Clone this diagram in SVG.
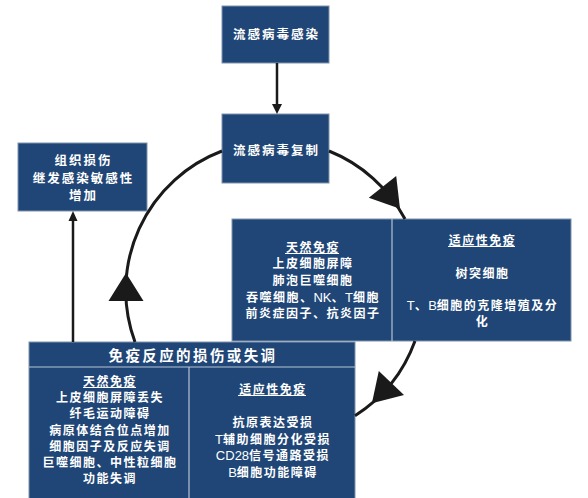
<svg xmlns="http://www.w3.org/2000/svg" width="588" height="498" viewBox="0 0 588 498">
<defs>
<style>
.box{fill:#1f4676;stroke:#8094ad;stroke-width:1}
.div{stroke:#b8c4d3;stroke-width:1.2}
.t{fill:#ffffff;font-family:"Liberation Sans","Noto Sans CJK SC",sans-serif;font-weight:bold;text-anchor:middle}
.s14{font-size:12.5px;letter-spacing:2px}
.s13{font-size:12px;letter-spacing:1.5px}
.s17{font-size:14.5px;letter-spacing:2.4px}
.lat{font-weight:normal;font-size:13px;letter-spacing:0}
.ul{stroke:#ffffff;stroke-width:1}
.ln{fill:none;stroke:#1a1a1a;stroke-width:3}
.sl{fill:none;stroke:#1a1a1a;stroke-width:2.5}
.ah{fill:#1a1a1a}
</style>
</defs>
<rect width="588" height="498" fill="#ffffff"/>

<g id="infection">
<rect class="box" x="222" y="6" width="107" height="57"/>
<text class="t s14" x="276.5" y="39">流感病毒感染</text>
</g>

<g id="replication">
<rect class="box" x="222" y="114" width="107" height="69"/>
<text class="t s14" x="276.5" y="155">流感病毒复制</text>
</g>

<g id="damage">
<rect class="box" x="18" y="143" width="129" height="68"/>
<text class="t s14" x="83.5" y="165">组织损伤</text>
<text class="t s14" x="83.5" y="183">继发感染敏感性</text>
<text class="t s14" x="83.5" y="200">增加</text>
</g>

<g id="response">
<rect class="box" x="232" y="219" width="339" height="122"/>
<line class="div" x1="392" y1="219" x2="392" y2="341"/>
<text class="t s13" x="313" y="251.5">天然免疫</text>
<line class="ul" x1="285" y1="253.5" x2="339" y2="253.5"/>
<text class="t s13" x="313" y="268">上皮细胞屏障</text>
<text class="t s13" x="313" y="285">肺泡巨噬细胞</text>
<text class="t s13" x="313" y="302">吞噬细胞、<tspan class="lat">NK</tspan>、<tspan class="lat">T</tspan>细胞</text>
<text class="t s13" x="313" y="318">前炎症因子、抗炎因子</text>
<text class="t s13" x="482.5" y="244.5">适应性免疫</text>
<line class="ul" x1="448" y1="246.5" x2="515" y2="246.5"/>
<text class="t s13" x="482.5" y="277.5">树突细胞</text>
<text class="t s13" x="482.5" y="310"><tspan class="lat">T</tspan>、<tspan class="lat">B</tspan>细胞的克隆增殖及分</text>
<text class="t s13" x="482.5" y="326">化</text>
</g>

<g id="dysregulation">
<rect class="box" x="29" y="342" width="326" height="160"/>
<line class="div" x1="29" y1="367" x2="355" y2="367"/>
<line class="div" x1="189" y1="367" x2="189" y2="502"/>
<text class="t s17" x="193" y="360.5">免疫反应的损伤或失调</text>
<text class="t s13" x="110" y="385.5">天然免疫</text>
<line class="ul" x1="83" y1="387.5" x2="136" y2="387.5"/>
<text class="t s13" x="110" y="402">上皮细胞屏障丢失</text>
<text class="t s13" x="110" y="418">纤毛运动障碍</text>
<text class="t s13" x="110" y="434.5">病原体结合位点增加</text>
<text class="t s13" x="110" y="450.8">细胞因子及反应失调</text>
<text class="t s13" x="110" y="467">巨噬细胞、中性粒细胞</text>
<text class="t s13" x="110" y="483">功能失调</text>
<text class="t s13" x="273" y="393.5">适应性免疫</text>
<line class="ul" x1="238" y1="395.5" x2="306" y2="395.5"/>
<text class="t s13" x="273" y="427">抗原表达受损</text>
<text class="t s13" x="273" y="443.5"><tspan class="lat">T</tspan>辅助细胞分化受损</text>
<text class="t s13" x="273" y="460"><tspan class="lat">CD28</tspan>信号通路受损</text>
<text class="t s13" x="273" y="476.5"><tspan class="lat">B</tspan>细胞功能障碍</text>
</g>

<g id="connectors">
<line class="sl" x1="277" y1="63" x2="277" y2="106"/>
<polygon class="ah" points="277,114 272,104 282,104"/>
<line class="sl" x1="73" y1="342" x2="73" y2="219"/>
<polygon class="ah" points="73,211 68.5,221 77.5,221"/>
<path class="ln" d="M329,151 A149,149 0 0 1 405,219"/>
<polygon class="ah" points="400,208.8 396.2,176 368.8,197.8"/>
<path class="ln" d="M415,341 A149,149 0 0 1 355,415.7"/>
<polygon class="ah" points="371.9,403.2 404,395.1 378.8,370.9"/>
<path class="ln" d="M135,342 A149,149 0 0 1 222,151"/>
<polygon class="ah" points="126,273 108.5,301 143.5,301"/>
</g>
</svg>
